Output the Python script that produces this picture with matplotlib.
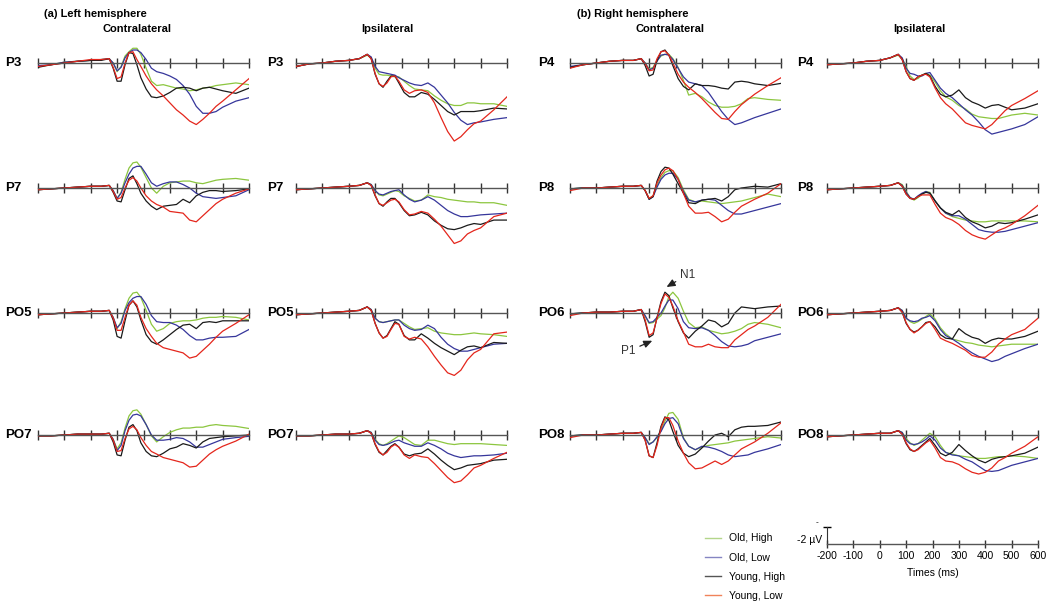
import matplotlib.pyplot as plt
from matplotlib.lines import Line2D

plt.rcParams['font.family'] = ['Liberation Sans', 'DejaVu Sans']

# sample times (ms) shared by every trace
times = [-200, -150, -100, -50, 0, 40, 70, 85, 100, 115, 130, 145, 160, 175, 190,
         210, 230, 250, 275, 300, 325, 350, 375, 400, 425, 450, 475, 500, 550, 600]

conditions = ['Old, High', 'Old, Low', 'Young, High', 'Young, Low']
colors = ['#8cc63f', '#36369b', '#1a1a1a', '#e4261c']
legend_colors = ['#b3d68a', '#8585c2', '#555555', '#f0835a']

# amplitudes in microvolts, rows = Old High, Old Low, Young High, Young Low
# (negative is drawn upward, as in the original)
L_contra_P3 = [
    [0.4, 0.2, -0.1, -0.2, -0.3, -0.4, -0.5, 0, 1.0, 0.4, -0.8, -1.3, -1.7, -1.7, -1.0, 0.6, 2.1, 2.6, 2.5, 2.7, 2.9, 3.0, 3.2, 3.1, 2.9, 2.8, 2.6, 2.5, 2.3, 2.5],
    [0.3, 0.2, -0.1, -0.2, -0.3, -0.4, -0.5, 0, 0.9, 0.5, -0.6, -1.2, -1.5, -1.5, -1.2, -0.4, 0.6, 1.0, 1.2, 1.5, 1.9, 2.6, 3.6, 5.0, 5.8, 5.8, 5.6, 5.1, 4.4, 4.0],
    [0.5, 0.2, 0, -0.2, -0.3, -0.3, -0.5, 0.6, 2.1, 2.1, 0.2, -1.2, -1.1, 0.2, 1.7, 3.0, 3.9, 4.0, 3.8, 3.4, 2.9, 2.8, 2.9, 3.2, 2.9, 2.8, 3.0, 3.2, 3.5, 2.9],
    [0.4, 0.2, 0, -0.2, -0.4, -0.4, -0.5, 0.5, 1.8, 1.6, 0, -1.2, -1.3, -0.4, 0.4, 1.5, 2.4, 3.1, 3.8, 4.6, 5.4, 6.0, 6.7, 7.1, 6.5, 5.8, 5.0, 4.4, 3.1, 1.8],
]
L_contra_P7 = [
    [0.2, 0.1, 0, -0.1, -0.2, -0.2, -0.3, 0.3, 1.2, 0.5, -1.0, -2.3, -2.9, -3.0, -2.4, -1.2, 0, 0.6, -0.2, -0.6, -0.7, -0.8, -0.8, -0.6, -0.5, -0.7, -0.9, -1.0, -1.1, -0.9],
    [0.2, 0.1, 0, -0.1, -0.2, -0.2, -0.3, 0.3, 1.2, 0.6, -0.6, -1.6, -2.3, -2.5, -2.5, -1.6, -0.6, -0.2, -0.5, -0.7, -0.7, -0.4, 0, 0.6, 1.0, 1.1, 1.2, 1.1, 0.9, 0.2],
    [0.2, 0.1, 0, -0.1, -0.2, -0.2, -0.3, 0.5, 1.5, 1.6, 0.2, -1.1, -1.4, -0.5, 0.6, 1.5, 2.1, 2.5, 2.1, 2.0, 1.9, 1.3, 1.7, 0.9, 0.5, 0.3, 0.3, 0.4, 0.3, 0.1],
    [0.2, 0.1, 0, -0.1, -0.2, -0.2, -0.3, 0.4, 1.3, 1.1, 0, -0.9, -1.2, -0.8, 0, 0.9, 1.5, 1.9, 2.2, 2.7, 2.8, 2.9, 3.7, 3.9, 3.2, 2.5, 1.8, 1.3, 0.6, 0.1],
]
L_contra_PO5 = [
    [0.2, 0.1, 0, -0.1, -0.2, -0.2, -0.3, 0.5, 1.8, 1.0, -0.5, -1.7, -2.3, -2.4, -1.8, -0.3, 1.3, 2.1, 1.8, 1.2, 1.0, 0.9, 0.9, 0.8, 0.6, 0.5, 0.5, 0.4, 0.5, 0.8],
    [0.2, 0.1, 0, -0.1, -0.2, -0.2, -0.3, 0.5, 1.7, 1.2, -0.3, -1.2, -1.7, -1.9, -1.9, -1.0, 0.3, 1.0, 1.1, 1.1, 1.4, 1.9, 2.6, 3.1, 3.1, 2.9, 2.8, 2.8, 2.7, 1.9],
    [0.2, 0.1, 0, -0.1, -0.2, -0.2, -0.3, 0.8, 2.7, 2.9, 0.9, -0.9, -1.4, -0.7, 0.8, 2.5, 3.3, 3.6, 3.1, 2.5, 1.9, 1.4, 1.3, 1.8, 1.1, 1.0, 1.1, 0.9, 0.9, 0.9],
    [0.2, 0.1, 0, -0.1, -0.2, -0.2, -0.3, 0.6, 2.0, 2.0, 0.5, -0.9, -1.4, -0.9, 0.5, 1.8, 2.7, 3.5, 4.0, 4.2, 4.4, 4.6, 5.2, 5.0, 4.3, 3.6, 2.8, 2.1, 1.2, 0.2],
]
L_contra_PO7 = [
    [0.1, 0.1, 0, -0.1, -0.1, -0.1, -0.2, 0.5, 1.6, 0.9, -0.8, -2.2, -2.8, -2.9, -2.4, -1.2, 0.1, 0.8, 0.2, -0.3, -0.6, -0.8, -0.8, -0.9, -0.9, -1.1, -1.2, -1.1, -1.0, -0.75],
    [0.1, 0.1, 0, -0.1, -0.1, -0.1, -0.2, 0.5, 1.8, 1.2, -0.5, -1.7, -2.3, -2.4, -2.2, -1.2, 0, 0.6, 0.6, 0.5, 0.3, 0.4, 0.8, 1.4, 1.4, 1.1, 0.8, 0.5, 0.3, 0.15],
    [0.1, 0.1, 0, -0.1, -0.1, -0.1, -0.2, 0.8, 2.3, 2.4, 0.6, -0.9, -1.2, -0.5, 0.9, 1.9, 2.4, 2.5, 2.1, 1.6, 1.4, 1.0, 1.2, 1.5, 0.8, 0.4, 0.3, 0.2, 0.1, 0],
    [0.1, 0.1, 0, -0.1, -0.1, -0.1, -0.2, 0.6, 1.9, 1.8, 0.4, -0.7, -1.0, -0.6, 0.3, 1.2, 1.9, 2.2, 2.6, 2.8, 3.0, 3.2, 3.7, 3.6, 2.9, 2.2, 1.7, 1.3, 0.7, -0.1],
]
L_ipsi_P3 = [
    [0.4, 0.1, 0, -0.2, -0.3, -0.5, -0.9, -0.6, 0.6, 1.3, 1.4, 1.4, 1.5, 1.6, 1.6, 2.1, 2.6, 3.0, 3.1, 3.2, 3.8, 4.3, 4.7, 4.9, 4.9, 4.6, 4.6, 4.7, 4.7, 5.0],
    [0.4, 0.1, 0, -0.2, -0.3, -0.5, -1.0, -0.7, 0.4, 1.0, 1.1, 1.2, 1.3, 1.4, 1.7, 2.0, 2.3, 2.5, 2.6, 2.3, 2.8, 3.7, 4.6, 5.7, 6.6, 7.1, 6.9, 6.8, 6.5, 6.3],
    [0.4, 0.1, 0, -0.2, -0.3, -0.5, -1.0, -0.5, 1.3, 2.4, 2.8, 2.1, 1.5, 1.5, 2.3, 3.4, 3.9, 3.9, 3.4, 3.6, 4.2, 4.9, 5.6, 6.0, 5.6, 5.6, 5.6, 5.5, 5.2, 5.3],
    [0.4, 0.1, 0, -0.2, -0.3, -0.5, -1.0, -0.5, 1.2, 2.4, 2.7, 2.3, 1.6, 1.5, 2.1, 3.1, 3.5, 3.2, 3.1, 3.4, 4.6, 6.3, 7.9, 9.0, 8.5, 7.7, 7.0, 6.7, 5.4, 3.9],
]
L_ipsi_P7 = [
    [0.2, 0.1, 0, -0.1, -0.2, -0.3, -0.6, -0.4, 0.3, 0.8, 0.9, 0.7, 0.5, 0.3, 0.4, 0.9, 1.2, 1.5, 1.4, 0.8, 1.0, 1.1, 1.3, 1.4, 1.5, 1.6, 1.6, 1.7, 1.7, 2.0],
    [0.2, 0.1, 0, -0.1, -0.2, -0.3, -0.6, -0.4, 0.3, 0.7, 0.8, 0.6, 0.4, 0.3, 0.2, 0.8, 1.3, 1.6, 1.4, 1.0, 1.4, 2.0, 2.6, 3.0, 3.3, 3.3, 3.2, 3.1, 3.0, 2.9],
    [0.2, 0.1, 0, -0.1, -0.2, -0.3, -0.6, -0.3, 0.9, 1.8, 2.1, 1.6, 1.2, 1.2, 1.7, 2.6, 3.2, 3.1, 2.8, 3.1, 3.8, 4.3, 4.7, 4.8, 4.6, 4.3, 4.1, 4.2, 3.7, 3.7],
    [0.2, 0.1, 0, -0.1, -0.2, -0.3, -0.6, -0.3, 0.8, 1.8, 2.0, 1.7, 1.4, 1.3, 1.6, 2.5, 3.1, 3.0, 2.7, 2.9, 3.6, 4.4, 5.4, 6.4, 6.1, 5.3, 4.9, 4.6, 3.3, 2.9],
]
L_ipsi_PO5 = [
    [0.2, 0.1, 0, -0.1, -0.2, -0.3, -0.7, -0.4, 0.6, 1.0, 1.1, 1.0, 0.9, 0.8, 0.8, 1.2, 1.6, 1.9, 1.8, 1.7, 2.1, 2.3, 2.4, 2.5, 2.5, 2.4, 2.3, 2.4, 2.5, 2.7],
    [0.2, 0.1, 0, -0.1, -0.2, -0.3, -0.7, -0.4, 0.6, 1.0, 1.1, 1.0, 0.9, 0.8, 0.8, 1.4, 1.8, 2.0, 1.9, 1.4, 1.8, 2.8, 3.6, 4.1, 4.4, 4.4, 4.2, 4.0, 3.6, 3.5],
    [0.2, 0.1, 0, -0.1, -0.2, -0.3, -0.7, -0.3, 1.2, 2.3, 2.9, 2.6, 1.8, 1.0, 1.3, 2.6, 3.1, 3.1, 2.4, 2.9, 3.5, 4.0, 4.4, 4.8, 4.3, 3.9, 3.8, 4.0, 3.4, 3.5],
    [0.2, 0.1, 0, -0.1, -0.2, -0.3, -0.7, -0.3, 1.2, 2.3, 2.9, 2.7, 1.9, 1.2, 1.3, 2.7, 3.0, 2.8, 3.0, 3.9, 5.0, 6.0, 6.9, 7.2, 6.6, 5.4, 4.6, 4.2, 2.4, 2.2],
]
L_ipsi_PO7 = [
    [0.1, 0.1, 0, -0.1, -0.1, -0.2, -0.5, -0.3, 0.5, 1.0, 1.2, 1.0, 0.7, 0.4, 0.1, 0.3, 0.7, 1.1, 1.2, 0.6, 0.6, 0.8, 1.0, 1.1, 1.0, 1.0, 1.0, 1.0, 1.1, 1.2],
    [0.1, 0.1, 0, -0.1, -0.1, -0.2, -0.5, -0.3, 0.6, 1.1, 1.2, 1.1, 0.9, 0.7, 0.6, 0.9, 1.1, 1.3, 1.3, 0.9, 1.2, 1.6, 2.1, 2.4, 2.6, 2.5, 2.4, 2.4, 2.3, 2.1],
    [0.1, 0.1, 0, -0.1, -0.1, -0.2, -0.5, -0.2, 1.1, 2.0, 2.3, 1.8, 1.3, 1.0, 1.4, 2.2, 2.4, 2.2, 2.1, 1.6, 2.2, 2.9, 3.5, 4.0, 3.8, 3.5, 3.4, 3.3, 2.9, 2.8],
    [0.1, 0.1, 0, -0.1, -0.1, -0.2, -0.5, -0.2, 1.0, 1.9, 2.3, 2.0, 1.4, 1.1, 1.4, 2.3, 2.7, 2.3, 2.5, 2.6, 3.3, 4.1, 4.9, 5.5, 5.3, 4.6, 3.8, 3.5, 2.7, 2.0],
]
R_contra_P4 = [
    [0.5, 0.2, 0, -0.2, -0.3, -0.3, -0.5, 0, 0.7, 0.5, -0.3, -0.8, -1.0, -1.0, -0.5, 0.5, 2.0, 3.7, 3.5, 3.9, 4.5, 4.9, 5.1, 5.1, 5.0, 4.7, 4.1, 4.0, 4.2, 4.3],
    [0.4, 0.2, 0, -0.2, -0.3, -0.3, -0.5, 0, 0.8, 0.6, -0.2, -0.9, -1.0, -0.9, -0.4, 0.6, 1.6, 2.2, 2.4, 2.6, 3.4, 4.5, 5.6, 6.5, 7.1, 6.9, 6.6, 6.3, 5.8, 5.3],
    [0.5, 0.2, 0, -0.2, -0.3, -0.3, -0.5, 0.3, 1.5, 1.3, -0.3, -1.3, -1.5, -0.9, 0.3, 1.8, 2.7, 3.1, 2.4, 2.6, 2.6, 2.7, 2.9, 3.0, 2.2, 2.1, 2.2, 2.4, 2.6, 2.35],
    [0.6, 0.2, 0, -0.2, -0.3, -0.3, -0.5, 0.1, 0.9, 0.8, -0.5, -1.3, -1.4, -0.9, 0, 1.3, 2.2, 2.8, 3.4, 4.1, 4.9, 5.7, 6.4, 6.5, 5.6, 4.8, 4.2, 3.6, 2.6, 1.7],
]
R_contra_P8 = [
    [0.1, 0, 0, -0.1, -0.2, -0.2, -0.3, 0.3, 1.2, 0.9, -0.3, -1.2, -1.8, -2.0, -2.0, -1.2, 0.2, 1.3, 1.6, 1.5, 1.6, 1.7, 1.8, 1.7, 1.6, 1.5, 1.3, 1.1, 0.7, 1.0],
    [0.1, 0, 0, -0.1, -0.2, -0.2, -0.3, 0.3, 1.3, 1.0, -0.1, -1.0, -1.5, -1.7, -1.7, -1.0, 0.4, 1.4, 1.6, 1.4, 1.3, 1.4, 2.0, 2.6, 3.0, 3.0, 2.8, 2.6, 2.2, 1.8],
    [0.1, 0, 0, -0.1, -0.2, -0.2, -0.3, 0.3, 1.3, 1.0, -0.8, -1.9, -2.4, -2.3, -1.6, -0.5, 0.6, 1.7, 1.8, 1.4, 1.3, 1.2, 1.5, 1.0, 0.2, 0, -0.1, -0.2, -0.1, -0.5],
    [0.3, 0, 0, -0.1, -0.2, -0.2, -0.3, 0.3, 1.2, 0.9, -0.6, -1.5, -2.1, -2.3, -2.0, -1.0, 0.6, 2.1, 2.9, 2.9, 2.8, 3.3, 3.9, 3.6, 2.8, 2.1, 1.7, 1.3, 0.6, -0.5],
]
R_contra_PO6 = [
    [0.1, 0, -0.1, -0.1, -0.2, -0.2, -0.4, 0.4, 1.2, 1.1, 0.7, 0.3, -0.6, -1.9, -2.4, -1.7, -0.2, 1.1, 1.7, 1.6, 2.0, 2.2, 2.4, 2.3, 2.1, 1.8, 1.3, 1.1, 1.3, 1.7],
    [0.1, 0, -0.1, -0.1, -0.2, -0.2, -0.4, 0.3, 1.1, 1.0, 0.5, 0, -0.8, -1.5, -1.5, -0.5, 1.0, 1.7, 1.8, 1.7, 2.0, 2.6, 3.3, 3.8, 3.9, 3.8, 3.6, 3.2, 2.8, 2.4],
    [0.1, 0, -0.1, -0.1, -0.2, -0.2, -0.4, 1.0, 2.8, 2.5, 0.5, -1.3, -2.4, -2.0, -0.6, 1.0, 2.3, 2.9, 2.1, 1.5, 0.8, 1.0, 1.6, 1.2, 0, -0.7, -0.6, -0.5, -0.7, -0.8],
    [0.3, 0, -0.1, -0.1, -0.2, -0.2, -0.4, 0.8, 2.6, 2.3, 0.6, -1.1, -2.2, -1.8, -0.8, 0.9, 2.2, 3.6, 3.9, 3.9, 3.6, 3.9, 4.0, 4.0, 3.1, 2.5, 1.9, 1.5, 0.5, -1.0],
]
R_contra_PO8 = [
    [0.1, 0, 0, -0.1, -0.2, -0.2, -0.3, 0.3, 1.0, 0.8, 0.3, -0.5, -1.6, -2.5, -2.6, -1.8, 0.3, 1.3, 1.7, 1.4, 1.2, 1.1, 1.0, 0.9, 0.7, 0.6, 0.5, 0.4, 0.2, 0.35],
    [0.1, 0, 0, -0.1, -0.2, -0.2, -0.3, 0.3, 1.1, 0.8, 0.2, -0.4, -1.3, -1.9, -2.0, -1.3, 0.4, 1.3, 1.7, 1.3, 1.4, 1.6, 1.9, 2.3, 2.5, 2.4, 2.3, 2.0, 1.6, 1.1],
    [0.1, 0, 0, -0.1, -0.2, -0.2, -0.3, 0.6, 2.4, 2.6, 0.9, -1.0, -2.1, -1.7, -0.4, 1.2, 2.1, 2.5, 2.2, 1.5, 0.7, 0, -0.2, 0.2, -0.6, -0.9, -1.0, -1.0, -1.1, -1.5],
    [0.3, 0, 0, -0.1, -0.2, -0.2, -0.3, 0.6, 2.4, 2.6, 1.2, -0.8, -2.0, -2.0, -1.1, 0.7, 2.1, 3.2, 3.9, 3.8, 3.4, 3.0, 3.4, 3.0, 2.3, 1.6, 1.2, 0.8, -0.2, -1.4],
]
R_ipsi_P4 = [
    [0.2, 0.1, 0, -0.2, -0.3, -0.6, -0.9, -0.5, 0.4, 1.5, 1.9, 1.8, 1.4, 1.2, 1.4, 2.2, 3.2, 3.9, 4.3, 4.9, 5.3, 5.9, 6.2, 6.3, 6.4, 6.4, 6.2, 6.0, 5.8, 6.0],
    [0.2, 0.1, 0, -0.2, -0.3, -0.6, -1.0, -0.6, 0.6, 1.2, 1.3, 1.5, 1.5, 1.2, 1.1, 2.0, 2.9, 3.5, 4.0, 4.7, 5.4, 6.0, 6.8, 7.7, 8.2, 8.0, 7.8, 7.6, 7.1, 6.2],
    [0.2, 0.1, 0, -0.2, -0.3, -0.6, -1.0, -0.4, 1.0, 1.8, 2.0, 1.6, 1.4, 1.2, 1.5, 2.7, 3.6, 3.9, 3.7, 3.1, 4.0, 4.5, 4.8, 5.2, 4.9, 4.8, 5.1, 5.4, 5.2, 4.7],
    [0.2, 0.1, 0, -0.2, -0.3, -0.6, -1.0, -0.4, 1.0, 1.8, 2.0, 1.6, 1.4, 1.3, 1.6, 2.9, 4.0, 4.7, 5.3, 6.1, 6.9, 7.2, 7.4, 7.6, 7.1, 6.3, 5.5, 4.9, 4.1, 3.2],
]
R_ipsi_P8 = [
    [0.2, 0.1, 0, -0.1, -0.2, -0.3, -0.6, -0.4, 0.4, 1.1, 1.4, 1.1, 0.7, 0.4, 0.5, 1.5, 2.3, 2.9, 3.3, 3.5, 3.7, 3.8, 3.9, 3.9, 3.8, 3.8, 3.8, 3.8, 3.8, 3.9],
    [0.2, 0.1, 0, -0.1, -0.2, -0.3, -0.6, -0.3, 0.5, 1.1, 1.3, 0.9, 0.6, 0.4, 0.6, 1.5, 2.3, 2.9, 3.2, 3.2, 3.6, 4.2, 4.8, 5.0, 5.1, 5.1, 5.0, 4.8, 4.4, 4.0],
    [0.2, 0.1, 0, -0.1, -0.2, -0.3, -0.6, -0.2, 0.7, 1.2, 1.3, 1.0, 0.7, 0.5, 0.6, 1.5, 2.3, 2.8, 3.1, 2.6, 3.4, 3.9, 4.2, 4.6, 4.4, 4.0, 4.1, 4.0, 3.6, 3.1],
    [0.2, 0.1, 0, -0.1, -0.2, -0.3, -0.6, -0.2, 0.7, 1.2, 1.3, 1.0, 0.8, 0.8, 0.8, 1.9, 2.9, 3.4, 3.7, 4.2, 4.9, 5.4, 5.7, 5.9, 5.4, 4.9, 4.6, 4.2, 3.2, 2.0],
]
R_ipsi_PO6 = [
    [0.2, 0.1, 0, -0.1, -0.2, -0.3, -0.6, -0.3, 0.6, 1.0, 1.2, 1.0, 0.7, 0.4, 0.1, 0.7, 1.7, 2.4, 3.0, 3.2, 3.4, 3.5, 3.7, 3.8, 3.9, 3.8, 3.7, 3.6, 3.6, 3.6],
    [0.2, 0.1, 0, -0.1, -0.2, -0.3, -0.6, -0.3, 0.6, 0.9, 1.0, 0.9, 0.6, 0.5, 0.3, 0.9, 1.9, 2.6, 3.0, 3.5, 4.1, 4.6, 5.0, 5.3, 5.6, 5.4, 5.0, 4.7, 4.1, 3.6],
    [0.2, 0.1, 0, -0.1, -0.2, -0.3, -0.6, -0.1, 1.2, 1.9, 2.2, 2.0, 1.6, 1.1, 1.0, 1.6, 2.5, 2.9, 3.0, 1.8, 2.4, 2.8, 3.0, 3.5, 3.1, 2.9, 3.0, 3.0, 2.7, 2.1],
    [0.2, 0.1, 0, -0.1, -0.2, -0.3, -0.6, -0.1, 1.1, 1.9, 2.3, 2.0, 1.6, 1.2, 1.0, 1.9, 2.9, 3.2, 3.5, 3.9, 4.3, 4.9, 5.1, 5.1, 4.5, 3.6, 3.0, 2.5, 1.9, 0.6],
]
R_ipsi_PO8 = [
    [0.2, 0.1, 0, -0.1, -0.2, -0.2, -0.5, -0.3, 0.4, 0.9, 1.2, 1.0, 0.6, 0.2, -0.2, 0.2, 1.2, 2.0, 2.2, 2.4, 2.5, 2.6, 2.7, 2.7, 2.6, 2.5, 2.5, 2.4, 2.5, 2.7],
    [0.2, 0.1, 0, -0.1, -0.2, -0.2, -0.5, -0.3, 0.6, 1.0, 1.1, 1.0, 0.8, 0.5, 0.1, 0.6, 1.5, 2.0, 2.3, 2.4, 2.8, 3.1, 3.6, 4.1, 4.2, 4.1, 3.8, 3.5, 3.1, 2.7],
    [0.2, 0.1, 0, -0.1, -0.2, -0.2, -0.5, -0.1, 1.0, 1.7, 1.9, 1.6, 1.2, 0.8, 0.4, 1.2, 2.1, 2.4, 2.0, 1.1, 1.8, 2.4, 2.9, 3.2, 2.8, 2.6, 2.5, 2.4, 2.1, 1.4],
    [0.2, 0.1, 0, -0.1, -0.2, -0.2, -0.5, -0.1, 0.9, 1.6, 1.9, 1.7, 1.3, 0.9, 0.6, 1.5, 2.6, 3.0, 3.1, 3.4, 3.9, 4.3, 4.5, 4.3, 3.8, 3.0, 2.6, 2.1, 1.3, 0.2],
]

left_sites = ['P3', 'P7', 'PO5', 'PO7']
right_sites = ['P4', 'P8', 'PO6', 'PO8']
columns = [
    (left_sites, [L_contra_P3, L_contra_P7, L_contra_PO5, L_contra_PO7]),
    (left_sites, [L_ipsi_P3, L_ipsi_P7, L_ipsi_PO5, L_ipsi_PO7]),
    (right_sites, [R_contra_P4, R_contra_P8, R_contra_PO6, R_contra_PO8]),
    (right_sites, [R_ipsi_P4, R_ipsi_P8, R_ipsi_PO6, R_ipsi_PO8]),
]
time_ticks = [-200, -100, 0, 100, 200, 300, 400, 500, 600]

# layout in pixels
W, H = 1050, 608
col_x = [38, 296, 570, 827]
label_x = [5, 267, 538, 797]
row_base = [63, 188, 313, 435]
pw = 211
k = 8.67          # px per microvolt
ytop, ybot = -4, 10

fig = plt.figure(figsize=(W / 100, H / 100), dpi=100)


def make_axes(x0, base):
    ax = fig.add_axes([x0 / W, (H - (base + ybot * k)) / H, pw / W, (ybot - ytop) * k / H])
    ax.set_xlim(-200, 600)
    ax.set_ylim(ybot, ytop)
    ax.patch.set_visible(False)
    for s in ['top', 'right', 'left']:
        ax.spines[s].set_visible(False)
    ax.spines['bottom'].set_position(('data', 0))
    ax.spines['bottom'].set_color('#555555')
    ax.spines['bottom'].set_linewidth(1)
    ax.set_xticks(time_ticks)
    ax.tick_params(axis='x', direction='inout', length=7, width=1, color='#333333', labelbottom=False)
    ax.set_yticks([])
    return ax


axes = {}
for c, (sites, panels) in enumerate(columns):
    for r, data in enumerate(panels):
        ax = make_axes(col_x[c], row_base[r])
        for vals, col, name in zip(data, colors, conditions):
            ax.plot(times, vals, color=col, lw=0.9, label=name)
        fig.text(label_x[c] / W, 1 - row_base[r] / H, sites[r], fontsize=9.5,
                 fontweight='bold', va='center', ha='left')
        axes[(c, r)] = ax

# headings
fig.text(44 / W, 1 - 14 / H, '(a) Left hemisphere', fontsize=8, fontweight='bold', va='center')
fig.text(577 / W, 1 - 14 / H, '(b) Right hemisphere', fontsize=8, fontweight='bold', va='center')
for cx, txt in zip([137, 387, 670, 919], ['Contralateral', 'Ipsilateral', 'Contralateral', 'Ipsilateral']):
    fig.text(cx / W, 1 - 29 / H, txt, fontsize=8, fontweight='bold', va='center', ha='center')

# component labels on PO6 contralateral
ax = axes[(2, 2)]
arrow = dict(arrowstyle='-|>,head_length=0.5,head_width=0.22', color='#222222', lw=0.9,
             mutation_scale=10, shrinkA=1, shrinkB=0)
ax.annotate('N1', xy=(166, -3.0), xytext=(245, -4.4), fontsize=8.5, color='#333333',
            ha='center', va='center', arrowprops=arrow)
ax.annotate('P1', xy=(112, 3.2), xytext=(22, 4.4), fontsize=8.5, color='#333333',
            ha='center', va='center', arrowprops=arrow)

# legend
handles = [Line2D([], [], color=col, lw=1.0) for col in legend_colors]
fig.legend(handles, conditions, loc='upper left', bbox_to_anchor=(696 / W, 1 - 524 / H),
           frameon=False, fontsize=7.5, handlelength=1.5, handletextpad=0.8, labelspacing=0.88)

# scale bar axis
axs = make_axes(827, 544)
axs.tick_params(axis='x', labelbottom=True, labelsize=7.5, pad=2, length=6)
axs.set_xticklabels([str(t) for t in time_ticks])
axs.set_xlabel('Times (ms)', fontsize=7.5, labelpad=5)
axs.spines['left'].set_visible(True)
axs.spines['left'].set_position(('data', -200))
axs.spines['left'].set_bounds(-2, 0)
axs.spines['left'].set_color('#333333')
axs.set_yticks([-2])
axs.tick_params(axis='y', direction='inout', length=6, width=1, labelleft=False)
fig.text(822 / W, 1 - 540 / H, '-2 µV', fontsize=7.5, ha='right', va='center')
fig.text(817 / W, 1 - 523 / H, '-', fontsize=6, ha='center', va='center')

fig.savefig('out.png', dpi=100)
